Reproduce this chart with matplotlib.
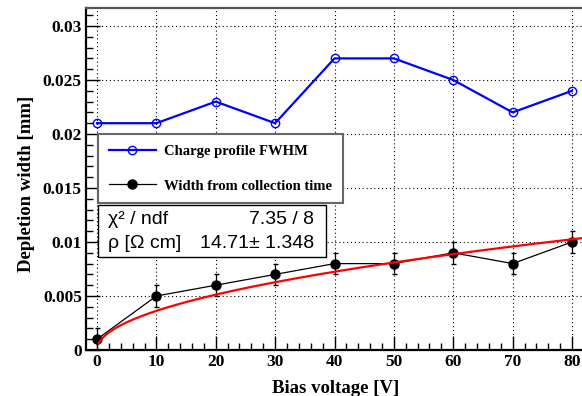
"""Depletion width vs bias voltage, ROOT style"""

import numpy as np
import matplotlib
matplotlib.use("Agg")
import matplotlib.pyplot as plt
from matplotlib.patches import Rectangle
from matplotlib.lines import Line2D
from matplotlib.ticker import MultipleLocator, FuncFormatter

# data
bias_voltage = [0, 10, 20, 30, 40, 50, 60, 70, 80]
fwhm_width = [0.021, 0.021, 0.023, 0.021, 0.027, 0.027, 0.025, 0.022, 0.024]
collection_width = [0.001, 0.005, 0.006, 0.007, 0.008, 0.008, 0.009, 0.008, 0.010]
collection_err = [0.001] * 9

# fit result: w = k * sqrt(V)
fit_k = 0.001146
fit_range = (0.3, 83.0)

stats_rows = [("χ² / ndf", "7.35 / 8"), ("ρ [Ω cm]", "14.71± 1.348")]

SERIF = ["Liberation Serif", "DejaVu Serif"]
SANS = ["Liberation Sans", "DejaVu Sans"]

W, H = 582, 396
fig = plt.figure(figsize=(W / 100, H / 100), dpi=100)
# axes frame in pixels: left 86, right past the edge, top 8, bottom 350
ax = fig.add_axes([86 / W, (H - 350) / H, 500 / W, 342 / H])

px_per_v = 475 / 80.0
xmin = -11 / px_per_v
ax.set_xlim(xmin, xmin + 500 / px_per_v)
ax.set_ylim(0, 342 / 10800.0)

blue_line, = ax.plot(bias_voltage, fwhm_width, color="blue", lw=1.6, marker="o",
                     ms=6, mfc="none", mec="blue", mew=1.0, zorder=3)
ax.errorbar(bias_voltage, collection_width, yerr=collection_err, color="black",
            lw=0.9, marker="o", ms=6.5, capsize=1.8, elinewidth=0.9, zorder=3)

v_fit = np.linspace(fit_range[0], fit_range[1], 300)
ax.plot(v_fit, fit_k * np.sqrt(v_fit), color="red", lw=1.6, zorder=4)

# ticks / grid
ax.xaxis.set_major_locator(MultipleLocator(10))
ax.xaxis.set_minor_locator(MultipleLocator(2))
ax.yaxis.set_major_locator(MultipleLocator(0.005))
ax.yaxis.set_minor_locator(MultipleLocator(0.001))
ax.yaxis.set_major_formatter(FuncFormatter(lambda v, p: f"{v:g}"))
ax.tick_params(which="both", direction="in", width=1.0, pad=3,
               top=False, right=False)
ax.tick_params(which="major", length=10)
ax.tick_params(which="minor", length=5)
for lab in ax.get_xticklabels() + ax.get_yticklabels():
    lab.set_family(SERIF)
    lab.set_fontweight("bold")
    lab.set_fontsize(12.5)
ax.grid(True, which="major", color="black", ls=(0, (1, 2.5)), lw=0.8)
ax.set_axisbelow(True)

for s in ("left", "bottom"):
    ax.spines[s].set_linewidth(1.6)
ax.spines["top"].set_linewidth(1.6)
ax.spines["top"].set_color("#555555")
ax.spines["right"].set_visible(False)

ax.set_xlabel("Bias voltage [V]", family=SERIF, fontweight="bold", fontsize=13.5)
ax.set_ylabel("Depletion width [mm]", family=SERIF, fontweight="bold", fontsize=13.5)
ax.xaxis.set_label_coords(0.5, -0.088)
ax.yaxis.set_label_coords(-0.102, 0.485)

# legend handles: plain line + marker (no error bars)
handles = [
    Line2D([], [], color="blue", lw=1.6, marker="o", ms=6, mfc="none",
           mec="blue", mew=1.0),
    Line2D([], [], color="black", lw=0.9, marker="o", ms=6.5),
]
labels = ["Charge profile FWHM", "Width from collection time"]
leg = ax.legend(handles, labels, loc="upper left",
                bbox_to_anchor=(98 / W, (H - 134) / H),
                bbox_transform=fig.transFigure, borderaxespad=0,
                fancybox=False, framealpha=1, edgecolor="#666666",
                prop={"family": SERIF, "weight": "bold", "size": 10.5},
                labelspacing=1.45, borderpad=0.75, handlelength=3.2,
                handletextpad=0.55)
leg.get_frame().set_linewidth(1.5)
leg.set_zorder(5)

# stats box
box = Rectangle((98 / W, (H - 257) / H), 228 / W, 52 / H,
                transform=fig.transFigure, facecolor="white",
                edgecolor="black", lw=1.0, zorder=6)
fig.patches.append(box)
for i, (name, value) in enumerate(stats_rows):
    yc = (H - (219 + 24 * i)) / H
    fig.text(108 / W, yc, name, ha="left", va="center", family=SANS,
             fontsize=14, zorder=7)
    fig.text(314 / W, yc, value, ha="right", va="center", family=SANS,
             fontsize=14, zorder=7)

fig.savefig("out.png", dpi=100)
